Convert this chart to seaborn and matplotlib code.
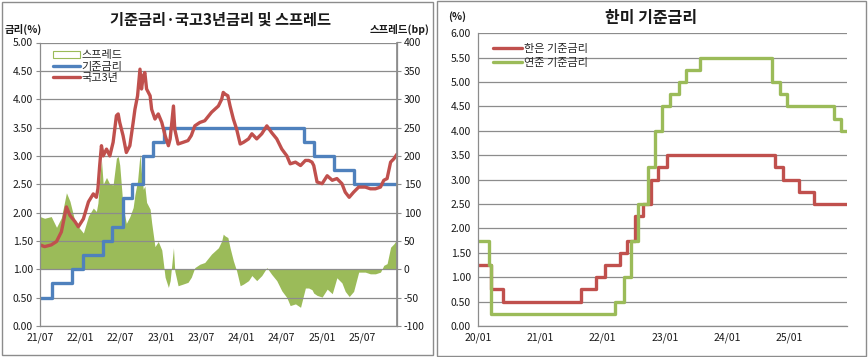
import numpy as np
import pandas as pd
import matplotlib
matplotlib.use("Agg")
import matplotlib.pyplot as plt
import matplotlib.dates as mdates
from matplotlib.patches import Rectangle, Patch
from matplotlib.lines import Line2D
import seaborn as sns

# ---------------------------------------------------------------------------
# data
# ---------------------------------------------------------------------------
# 한은 기준금리 (step changes)
kr_dates = ["2020-01-01", "2020-03-17", "2020-05-28", "2021-08-26", "2021-11-25",
            "2022-01-14", "2022-04-14", "2022-05-26", "2022-07-13", "2022-08-25",
            "2022-10-12", "2022-11-24", "2023-01-13", "2024-10-11", "2024-11-28",
            "2025-02-25", "2025-05-29", "2025-12-08"]
kr_rates = [1.25, 0.75, 0.50, 0.75, 1.00,
            1.25, 1.50, 1.75, 2.25, 2.50,
            3.00, 3.25, 3.50, 3.25, 3.00,
            2.75, 2.50, 2.50]

# 연준 기준금리 (upper bound, step changes)
us_dates = ["2020-01-01", "2020-03-04", "2020-03-16", "2022-03-17", "2022-05-05",
            "2022-06-16", "2022-07-28", "2022-09-22", "2022-11-03", "2022-12-15",
            "2023-02-02", "2023-03-23", "2023-05-04", "2023-07-27", "2024-09-19",
            "2024-11-08", "2024-12-19", "2025-09-18", "2025-10-30", "2025-12-06"]
us_rates = [1.75, 1.25, 0.25, 0.50, 1.00,
            1.75, 2.50, 3.25, 4.00, 4.50,
            4.75, 5.00, 5.25, 5.50, 5.00,
            4.75, 4.50, 4.25, 4.00, 4.00]

# 국고3년 (%)
ktb_dates = ["2021-07-01", "2021-07-22", "2021-08-21", "2021-09-14", "2021-10-06",
             "2021-10-29", "2021-11-14", "2021-12-07", "2021-12-22", "2022-01-14",
             "2022-02-06", "2022-02-28", "2022-03-14", "2022-03-21", "2022-03-29",
             "2022-04-06", "2022-04-14", "2022-04-29", "2022-05-14", "2022-05-29",
             "2022-06-13", "2022-06-21", "2022-06-28", "2022-07-13", "2022-07-28",
             "2022-08-13", "2022-08-28", "2022-09-05", "2022-09-17", "2022-09-28",
             "2022-10-05", "2022-10-13", "2022-10-20", "2022-10-28", "2022-11-13",
             "2022-11-20", "2022-12-05", "2022-12-20", "2023-01-05", "2023-01-20",
             "2023-02-04", "2023-02-12", "2023-02-27", "2023-03-05", "2023-03-20",
             "2023-04-12", "2023-05-04", "2023-05-19", "2023-06-04", "2023-06-27",
             "2023-07-19", "2023-08-19", "2023-09-19", "2023-10-04", "2023-10-11",
             "2023-10-19", "2023-11-01", "2023-11-11", "2023-11-26", "2023-12-11",
             "2023-12-27", "2024-01-11", "2024-02-03", "2024-02-18", "2024-03-11",
             "2024-04-03", "2024-04-26", "2024-05-18", "2024-06-10", "2024-07-03",
             "2024-07-26", "2024-08-10", "2024-09-03", "2024-09-26", "2024-10-18",
             "2024-11-02", "2024-11-17", "2024-11-25", "2024-12-10", "2025-01-02",
             "2025-01-25", "2025-02-17", "2025-03-10", "2025-04-02", "2025-04-17",
             "2025-05-05", "2025-05-25", "2025-06-17", "2025-07-17", "2025-08-09",
             "2025-09-01", "2025-09-24", "2025-10-09", "2025-10-24", "2025-11-09",
             "2025-11-24", "2025-12-08"]
ktb_rates = [1.43, 1.40, 1.43, 1.49, 1.66,
             2.10, 1.95, 1.84, 1.75, 1.89,
             2.19, 2.33, 2.27, 2.42, 2.83,
             3.18, 3.00, 3.12, 3.00, 3.24,
             3.71, 3.74, 3.59, 3.36, 3.06,
             3.18, 3.59, 3.82, 4.06, 4.53,
             4.18, 4.41, 4.47, 4.18, 4.06,
             3.82, 3.65, 3.74, 3.59, 3.36,
             3.18, 3.30, 3.88, 3.47, 3.21,
             3.24, 3.27, 3.36, 3.53, 3.59,
             3.62, 3.77, 3.88, 4.00, 4.12,
             4.09, 4.06, 3.88, 3.65, 3.47,
             3.21, 3.24, 3.30, 3.39, 3.30,
             3.39, 3.53, 3.41, 3.30, 3.12,
             3.00, 2.86, 2.89, 2.83, 2.92,
             2.92, 2.89, 2.83, 2.54, 2.51,
             2.65, 2.57, 2.60, 2.51, 2.36,
             2.27, 2.36, 2.45, 2.45, 2.42,
             2.42, 2.45, 2.57, 2.60, 2.89,
             2.95, 3.03]

left_ticks = ["2021-07-01", "2022-01-01", "2022-07-01", "2023-01-01", "2023-07-01",
              "2024-01-01", "2024-07-01", "2025-01-01", "2025-07-01"]
right_ticks = ["2020-01-01", "2021-01-01", "2022-01-01", "2023-01-01",
               "2024-01-01", "2025-01-01"]

# ---------------------------------------------------------------------------
kr = pd.DataFrame({"date": pd.to_datetime(kr_dates), "rate": kr_rates})
us = pd.DataFrame({"date": pd.to_datetime(us_dates), "rate": us_rates})
ktb = pd.DataFrame({"date": pd.to_datetime(ktb_dates), "rate": ktb_rates})

# spread = 국고3년 - 기준금리 (bp), base rate looked up from the step series
idx = np.searchsorted(kr["date"].values, ktb["date"].values, side="right") - 1
ktb["spread"] = (ktb["rate"].values - kr["rate"].values[idx]) * 100

BLUE = "#4F81BD"
RED = "#C0504D"
GREEN = "#9BBB59"
GRID = "#8C8C8C"
TXT = "#1a1a1a"

sns.set_theme(style="white")
plt.rcParams["font.family"] = ["Noto Sans CJK KR", "DejaVu Sans"]
plt.rcParams["axes.unicode_minus"] = False

fig = plt.figure(figsize=(8.68, 3.57), dpi=100)
W, H = 868, 357


def px_axes(x0, y0, x1, y1):
    return fig.add_axes([x0 / W, 1 - y1 / H, (x1 - x0) / W, (y1 - y0) / H])


def frame(x0, y0, x1, y1):
    fig.patches.append(Rectangle((x0 / W, 1 - y1 / H), (x1 - x0) / W, (y1 - y0) / H,
                                 transform=fig.transFigure, fill=False,
                                 edgecolor="#8C8C8C", lw=1.0))


def style_axes(ax):
    ax.grid(axis="y", color=GRID, lw=0.9)
    ax.set_axisbelow(True)
    for s in ["top", "right"]:
        ax.spines[s].set_visible(False)
    for s in ["left", "bottom"]:
        ax.spines[s].set_color(GRID)
        ax.spines[s].set_linewidth(0.9)
    ax.tick_params(axis="both", labelsize=7.5, colors=TXT, length=3, width=0.8,
                   direction="out", pad=2)
    ax.tick_params(axis="both", color=GRID)
    ax.set_xlabel("")
    ax.set_ylabel("")


frame(2, 2, 433, 355)
frame(437, 1, 866, 356)

# ---------------------------- left chart ----------------------------------
ax = px_axes(40, 42.5, 397, 326)
ax2 = ax.twinx()

ax2.fill_between(ktb["date"], 0, ktb["spread"], color=GREEN, lw=0)
ax2.set_ylim(-100, 400)
ax2.set_yticks(np.arange(-100, 401, 50))
ax2.set_yticklabels([f"{v}" for v in range(-100, 401, 50)])

ax.set_zorder(ax2.get_zorder() + 1)
ax.patch.set_visible(False)

sns.lineplot(data=kr, x="date", y="rate", ax=ax, color=BLUE, lw=2.4,
             drawstyle="steps-post")
sns.lineplot(data=ktb, x="date", y="rate", ax=ax, color=RED, lw=2.4)

ax.set_ylim(0, 5)
ax.set_yticks(np.arange(0, 5.01, 0.5))
ax.set_yticklabels([f"{v:.2f}" for v in np.arange(0, 5.01, 0.5)])
ax.set_xlim(pd.Timestamp("2021-07-01"), pd.Timestamp("2025-12-08"))
ax.set_xticks(pd.to_datetime(left_ticks))
ax.xaxis.set_major_formatter(mdates.DateFormatter("%y/%m"))
style_axes(ax)
ax2.grid(False)
for s in ["top", "left", "bottom"]:
    ax2.spines[s].set_visible(False)
ax2.spines["right"].set_color(GRID)
ax2.spines["right"].set_linewidth(0.9)
ax2.tick_params(axis="y", labelsize=7.5, colors=TXT, length=3, width=0.8, pad=2)
ax2.tick_params(axis="y", color=GRID)
ax2.set_ylabel("")
ax.spines["right"].set_visible(True)
ax.spines["right"].set_color(GRID)

handles = [Patch(facecolor="white", edgecolor=GREEN, lw=0.8),
           Line2D([0], [0], color=BLUE, lw=2.4),
           Line2D([0], [0], color=RED, lw=2.4)]
ax.legend(handles, ["스프레드", "기준금리", "국고3년"], loc="upper left",
          bbox_to_anchor=(0.015, 1.0), frameon=False, fontsize=8,
          handlelength=2.4, handleheight=0.6, handletextpad=0.15,
          labelspacing=0.12, borderaxespad=0.3)

fig.text(221 / W, 1 - 20 / H, "기준금리·국고3년금리 및 스프레드", ha="center",
         va="center", fontsize=11, fontweight="bold", color=TXT)
fig.text(5 / W, 1 - 29 / H, "금리(%)", ha="left", va="center", fontsize=7.5,
         fontweight="bold", color=TXT)
fig.text(429 / W, 1 - 29 / H, "스프레드(bp)", ha="right", va="center",
         fontsize=7.5, fontweight="bold", color=TXT)

# ---------------------------- right chart ---------------------------------
bx = px_axes(478, 33.3, 847, 326)
sns.lineplot(data=kr, x="date", y="rate", ax=bx, color=RED, lw=2.4,
             drawstyle="steps-post", label="한은 기준금리")
sns.lineplot(data=us, x="date", y="rate", ax=bx, color=GREEN, lw=2.4,
             drawstyle="steps-post", label="연준 기준금리")
bx.set_ylim(0, 6)
bx.set_yticks(np.arange(0, 6.01, 0.5))
bx.set_yticklabels([f"{v:.2f}" for v in np.arange(0, 6.01, 0.5)])
bx.set_xlim(pd.Timestamp("2020-01-01"), pd.Timestamp("2025-12-06"))
bx.set_xticks(pd.to_datetime(right_ticks))
bx.xaxis.set_major_formatter(mdates.DateFormatter("%y/%m"))
style_axes(bx)
bx.legend(loc="upper left", bbox_to_anchor=(0.02, 0.99), frameon=False,
          fontsize=8, handlelength=2.6, handletextpad=0.15, labelspacing=0.35,
          borderaxespad=0.3)

fig.text(651 / W, 1 - 18 / H, "한미 기준금리", ha="center", va="center",
         fontsize=11.5, fontweight="bold", color=TXT)
fig.text(457 / W, 1 - 17 / H, "(%)", ha="center", va="center", fontsize=7.5,
         fontweight="bold", color=TXT)

fig.savefig("out.png", dpi=100)
